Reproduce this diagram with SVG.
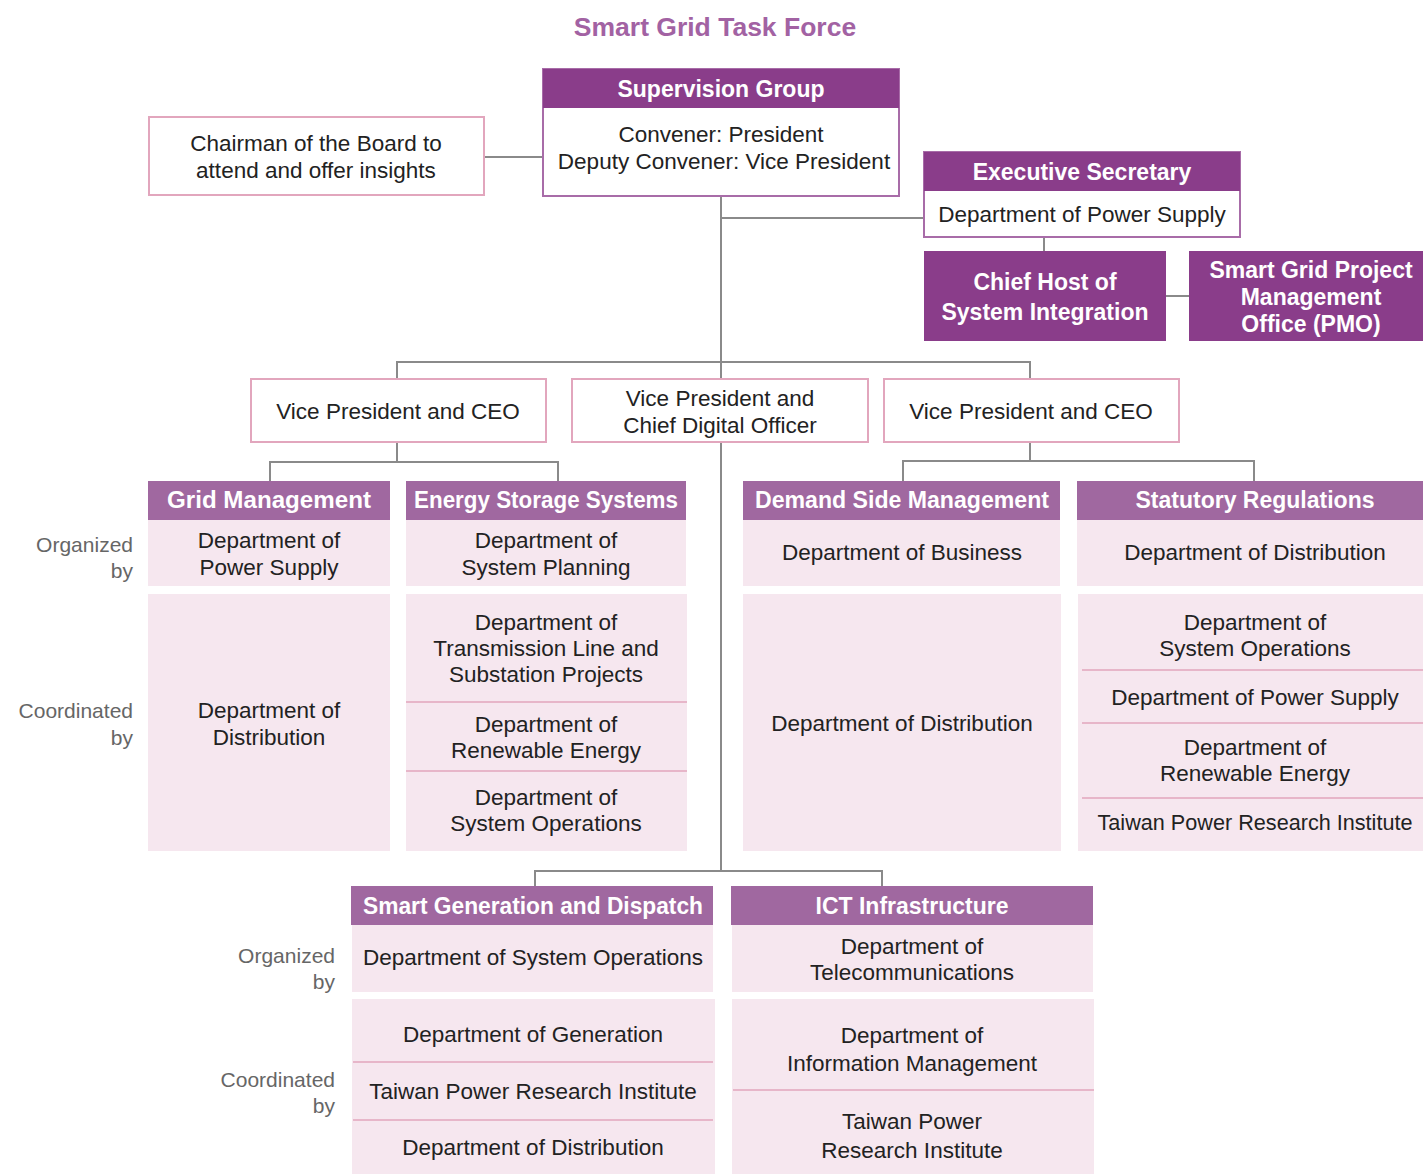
<svg xmlns="http://www.w3.org/2000/svg" width="1423" height="1174" viewBox="0 0 1423 1174">
<style>
text{font-family:"Liberation Sans",Arial,sans-serif;text-anchor:middle;dominant-baseline:central}
.t{font-size:22.5px;fill:#222}
.h{font-size:23px;font-weight:bold;fill:#fff}
.lab{font-size:21px;fill:#666;text-anchor:end}
.title{font-size:26.5px;font-weight:bold;fill:#A262A3}
.dark{fill:#8A3D8A}
.mid{fill:#A068A0}
.body{fill:#F6E7EF}
.wbox{fill:#fff;stroke:#E2A6BD;stroke-width:2}
.pbox{fill:#fff;stroke:#A86CA8;stroke-width:2}
.div{stroke:#E2A6BD;stroke-width:1.5;fill:none}
.con{stroke:#8A8A8A;stroke-width:2;fill:none}
</style>
<text class="title" x="715" y="27">Smart Grid Task Force</text>

<g id="connectors">
<path class="con" d="M485,157H543"/>
<path class="con" d="M721,196V871"/>
<path class="con" d="M721,218H924"/>
<path class="con" d="M1044,237V251"/>
<path class="con" d="M1166,296H1189"/>
<path class="con" d="M397,379V362H1030V379"/>
<path class="con" d="M397,442V462"/>
<path class="con" d="M270,481V462H558V481"/>
<path class="con" d="M1030,442V461"/>
<path class="con" d="M903,481V461H1254V481"/>
<path class="con" d="M535,886V871H882V886"/>
</g>

<g id="supervision">
<rect class="pbox" x="543" y="69" width="356" height="127"/>
<rect class="dark" x="543" y="69" width="356" height="39"/>
<text class="h" x="721" y="89">Supervision Group</text>
<text class="t" x="721" y="134">Convener: President</text>
<text class="t" x="724" y="161">Deputy Convener: Vice President</text>
</g>

<g id="chairman">
<rect class="wbox" x="149" y="117" width="335" height="78"/>
<text class="t" x="316" y="143">Chairman of the Board to</text>
<text class="t" x="316" y="170">attend and offer insights</text>
</g>

<g id="exec">
<rect class="pbox" x="924" y="152" width="316" height="85"/>
<rect class="dark" x="924" y="152" width="316" height="39"/>
<text class="h" x="1082" y="172">Executive Secretary</text>
<text class="t" x="1082" y="214">Department of Power Supply</text>
</g>

<g id="chiefhost">
<rect class="dark" x="924" y="251" width="242" height="90"/>
<text class="h" x="1045" y="282">Chief Host of</text>
<text class="h" x="1045" y="312">System Integration</text>
</g>

<g id="pmo">
<rect class="dark" x="1189" y="251" width="234" height="90"/>
<text class="h" x="1311" y="270">Smart Grid Project</text>
<text class="h" x="1311" y="297">Management</text>
<text class="h" x="1311" y="324">Office (PMO)</text>
</g>

<g id="vp-left">
<rect class="wbox" x="251" y="379" width="295" height="63"/>
<text class="t" x="398" y="411">Vice President and CEO</text>
</g>
<g id="vp-mid">
<rect class="wbox" x="572" y="379" width="296" height="63"/>
<text class="t" x="720" y="398">Vice President and</text>
<text class="t" x="720" y="425">Chief Digital Officer</text>
</g>
<g id="vp-right">
<rect class="wbox" x="884" y="379" width="295" height="63"/>
<text class="t" x="1031" y="411">Vice President and CEO</text>
</g>

<g id="side-labels">
<text class="lab" x="133" y="544">Organized</text>
<text class="lab" x="133" y="570">by</text>
<text class="lab" x="133" y="710">Coordinated</text>
<text class="lab" x="133" y="737">by</text>
<text class="lab" x="335" y="955">Organized</text>
<text class="lab" x="335" y="981">by</text>
<text class="lab" x="335" y="1079">Coordinated</text>
<text class="lab" x="335" y="1105">by</text>
</g>

<g id="grid-management">
<rect class="mid" x="148" y="481" width="242" height="39"/>
<text class="h" x="269" y="500" textLength="204" lengthAdjust="spacingAndGlyphs">Grid Management</text>
<rect class="body" x="148" y="520" width="242" height="66"/>
<text class="t" x="269" y="540">Department of</text>
<text class="t" x="269" y="567">Power Supply</text>
<rect class="body" x="148" y="594" width="242" height="257"/>
<text class="t" x="269" y="710">Department of</text>
<text class="t" x="269" y="737">Distribution</text>
</g>

<g id="energy-storage">
<rect class="mid" x="406" y="481" width="280" height="39"/>
<text class="h" x="546" y="500" textLength="264" lengthAdjust="spacingAndGlyphs">Energy Storage Systems</text>
<rect class="body" x="406" y="520" width="280" height="66"/>
<text class="t" x="546" y="540">Department of</text>
<text class="t" x="546" y="567">System Planning</text>
<rect class="body" x="406" y="594" width="281" height="257"/>
<path class="div" d="M406,702H687M406,771H687"/>
<text class="t" x="546" y="622">Department of</text>
<text class="t" x="546" y="648">Transmission Line and</text>
<text class="t" x="546" y="674">Substation Projects</text>
<text class="t" x="546" y="724">Department of</text>
<text class="t" x="546" y="750">Renewable Energy</text>
<text class="t" x="546" y="797">Department of</text>
<text class="t" x="546" y="823">System Operations</text>
</g>

<g id="demand-side">
<rect class="mid" x="743" y="481" width="317" height="39"/>
<text class="h" x="902" y="500" textLength="294" lengthAdjust="spacingAndGlyphs">Demand Side Management</text>
<rect class="body" x="743" y="520" width="317" height="66"/>
<text class="t" x="902" y="552">Department of Business</text>
<rect class="body" x="743" y="594" width="318" height="257"/>
<text class="t" x="902" y="723">Department of Distribution</text>
</g>

<g id="statutory">
<rect class="mid" x="1077" y="481" width="346" height="39"/>
<text class="h" x="1255" y="500">Statutory Regulations</text>
<rect class="body" x="1077" y="520" width="346" height="66"/>
<text class="t" x="1255" y="552">Department of Distribution</text>
<rect class="body" x="1078" y="594" width="345" height="257"/>
<path class="div" d="M1082,670H1423M1082,723H1423M1082,798H1423"/>
<text class="t" x="1255" y="622">Department of</text>
<text class="t" x="1255" y="648">System Operations</text>
<text class="t" x="1255" y="697">Department of Power Supply</text>
<text class="t" x="1255" y="747">Department of</text>
<text class="t" x="1255" y="773">Renewable Energy</text>
<text class="t" x="1255" y="822" textLength="315" lengthAdjust="spacingAndGlyphs">Taiwan Power Research Institute</text>
</g>

<g id="smart-generation">
<rect class="mid" x="351" y="886" width="362" height="39"/>
<text class="h" x="533" y="906" textLength="340" lengthAdjust="spacingAndGlyphs">Smart Generation and Dispatch</text>
<rect class="body" x="352" y="925" width="361" height="67"/>
<text class="t" x="533" y="957">Department of System Operations</text>
<rect class="body" x="352" y="999" width="363" height="175"/>
<path class="div" d="M353,1062H713M353,1120H713"/>
<text class="t" x="533" y="1034">Department of Generation</text>
<text class="t" x="533" y="1091">Taiwan Power Research Institute</text>
<text class="t" x="533" y="1147">Department of Distribution</text>
</g>

<g id="ict">
<rect class="mid" x="731" y="886" width="362" height="39"/>
<text class="h" x="912" y="906">ICT Infrastructure</text>
<rect class="body" x="732" y="925" width="361" height="67"/>
<text class="t" x="912" y="946">Department of</text>
<text class="t" x="912" y="972">Telecommunications</text>
<rect class="body" x="732" y="999" width="362" height="175"/>
<path class="div" d="M733,1090H1094"/>
<text class="t" x="912" y="1035">Department of</text>
<text class="t" x="912" y="1063">Information Management</text>
<text class="t" x="912" y="1121">Taiwan Power</text>
<text class="t" x="912" y="1150">Research Institute</text>
</g>
</svg>
